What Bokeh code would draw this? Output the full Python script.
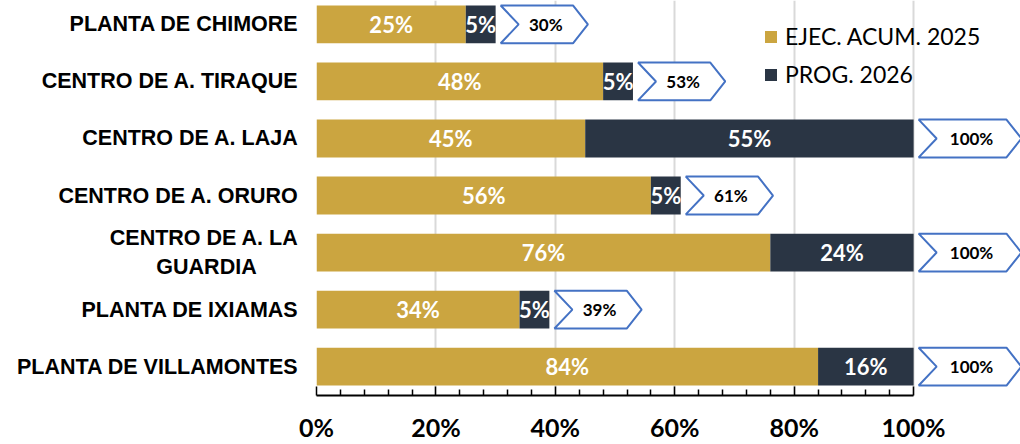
from bokeh.plotting import figure
from bokeh.models import FixedTicker, ColumnDataSource, Legend, LegendItem, Range1d
from bokeh.embed import file_html
from bokeh.resources import INLINE
from bokeh.core.properties import value

NBSP = "\u00a0"
categories = ["PLANTA DE CHIMORE", "CENTRO DE A. TIRAQUE", "CENTRO DE A. LAJA",
              "CENTRO DE A. ORURO", "CENTRO DE A. LA\nGUARDIA" + NBSP * 7, "PLANTA DE IXIAMAS",
              "PLANTA DE VILLAMONTES"]
ejec_2025 = [25, 48, 45, 56, 76, 34, 84]
prog_2026 = [5, 5, 55, 5, 24, 5, 16]
series_names = ["EJEC. ACUM. 2025", "PROG. 2026"]
x_ticks = [0, 20, 40, 60, 80, 100]
x_tick_labels = ["0%", "20%", "40%", "60%", "80%", "100%"]

GOLD = "#CBA540"
NAVY = "#2A3544"
ARROW_LINE = "#4472C4"

n = len(categories)
ypos = [n - 1 - i for i in range(n)]
totals = [a + b for a, b in zip(ejec_2025, prog_2026)]
BAR_H = 0.663

p = figure(width=1020, height=444, x_range=Range1d(0, 117.9), y_range=Range1d(-0.506, 6.419),
           output_backend="svg", toolbar_location=None,
           min_border_left=316, min_border_right=0, min_border_top=0, min_border_bottom=47)
p.styles = {"position": "absolute", "top": "0px", "left": "0px"}
p.outline_line_color = None
p.background_fill_color = "white"
p.border_fill_color = "white"

# x axis
p.xaxis.ticker = FixedTicker(ticks=x_ticks, minor_ticks=[t for t in range(4, 100, 4) if t % 20])
p.xaxis.bounds = (0, 100)
p.xaxis.major_label_overrides = {t: l for t, l in zip(x_ticks, x_tick_labels)}
p.xaxis.axis_line_color = "black"
p.xaxis.axis_line_width = 2
p.xaxis.major_tick_in = 9
p.xaxis.major_tick_out = 0
p.xaxis.minor_tick_in = 6
p.xaxis.minor_tick_out = 0
p.xaxis.major_tick_line_color = "black"
p.xaxis.major_tick_line_width = 1.5
p.xaxis.minor_tick_line_color = "black"
p.xaxis.minor_tick_line_width = 1.5
p.xaxis.major_label_text_font = "Lato"
p.xaxis.major_label_text_font_style = "bold"
p.xaxis.major_label_text_font_size = "25px"
p.xaxis.major_label_text_color = "black"
p.xaxis.major_label_standoff = 16

p.xgrid.grid_line_color = "#D9D9D9"
p.xgrid.grid_line_width = 2
p.ygrid.grid_line_color = None

# y axis
p.yaxis.ticker = FixedTicker(ticks=ypos)
p.yaxis.major_label_overrides = {y: c for y, c in zip(ypos, categories)}
p.yaxis.axis_line_color = None
p.yaxis.major_tick_line_color = None
p.yaxis.minor_tick_line_color = None
p.yaxis.major_label_text_font = "Liberation Sans"
p.yaxis.major_label_text_font_style = "bold"
p.yaxis.major_label_text_font_size = "21.5px"
p.yaxis.major_label_text_color = "black"
p.yaxis.major_label_standoff = 12

src = ColumnDataSource(dict(
    y=ypos, ejec=ejec_2025, prog=prog_2026, total=totals,
    mid_e=[e / 2 for e in ejec_2025],
    mid_p=[e + pr / 2 for e, pr in zip(ejec_2025, prog_2026)],
    lab_e=[f"{v}%" for v in ejec_2025],
    lab_p=[f"{v}%" for v in prog_2026],
))

r1 = p.hbar(y="y", left=0, right="ejec", height=BAR_H, fill_color=GOLD, line_color=None, source=src)
r2 = p.hbar(y="y", left="ejec", right="total", height=BAR_H, fill_color=NAVY, line_color=None, source=src)

p.text(x="mid_e", y="y", text="lab_e", source=src, text_color="white", text_font=value("Lato"),
       text_font_style="bold", text_font_size="22px", text_align="center", text_baseline="middle")
p.text(x="mid_p", y="y", text="lab_p", source=src, text_color="white", text_font=value("Lato"),
       text_font_style="bold", text_font_size="22px", text_align="center", text_baseline="middle")

# arrow callouts with totals
GAP, NOTCH, TIP = 0.85, 3.0, 2.5
xs, ys, tx = [], [], []
for yv, tot in zip(ypos, totals):
    w = 17.2 if tot >= 100 else 14.6
    x0 = tot + GAP
    top, bot = yv + BAR_H / 2, yv - BAR_H / 2
    xs.append([x0, x0 + w - TIP, x0 + w, x0 + w - TIP, x0, x0 + NOTCH])
    ys.append([top, top, yv, bot, bot, yv])
    tx.append(x0 + NOTCH + (w - NOTCH - TIP) / 2)
asrc = ColumnDataSource(dict(xs=xs, ys=ys, tx=tx, y=ypos, lab=[f"{t}%" for t in totals]))
p.patches(xs="xs", ys="ys", source=asrc, fill_color="white", line_color=ARROW_LINE, line_width=2)
p.text(x="tx", y="y", text="lab", source=asrc, text_color="black", text_font=value("Lato"),
       text_font_style="bold", text_font_size="17px", text_align="center", text_baseline="middle")

legend = Legend(items=[LegendItem(label=series_names[0], renderers=[r1]),
                       LegendItem(label=series_names[1], renderers=[r2])],
                location=(447, 307), padding=0, margin=0, border_line_color=None,
                background_fill_alpha=0, glyph_width=15, glyph_height=15, label_standoff=7,
                spacing=10, label_text_font="Lato", label_text_font_size="23px",
                label_text_color="black")
p.add_layout(legend)

open("out.html", "w").write(file_html(p, INLINE))
